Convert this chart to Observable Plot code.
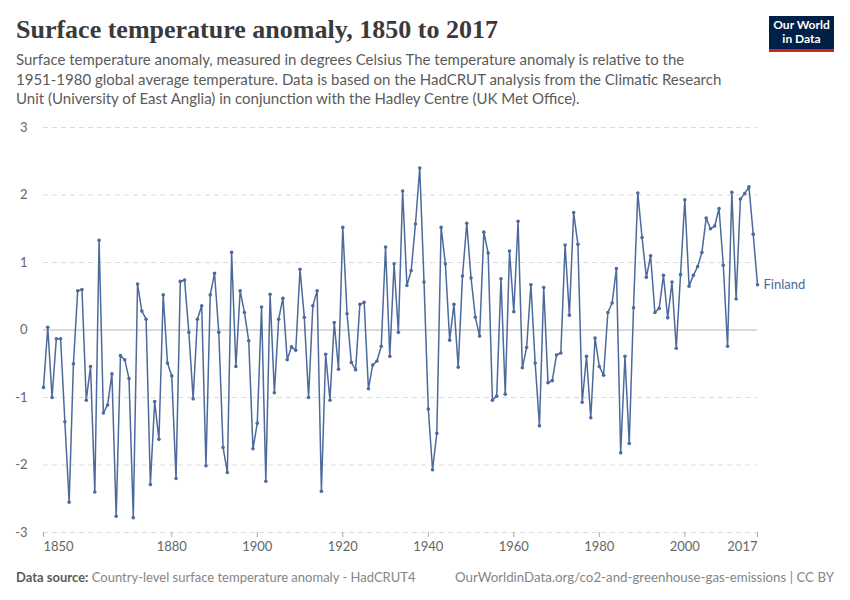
<!DOCTYPE html>
<html>
<head>
<meta charset="utf-8">
<script src="https://cdn.jsdelivr.net/npm/d3@7"></script>
<script src="https://cdn.jsdelivr.net/npm/@observablehq/plot@0.6"></script>
<style>
  body { margin: 0; width: 850px; height: 600px; position: relative; background: #fff; font-family: Lato, sans-serif; overflow: hidden; }
  #title { position: absolute; left: 16px; top: 15px; font-family: "Liberation Serif", serif; font-weight: bold; font-size: 26px; color: #3a3a3a; white-space: nowrap; }
  #subtitle { position: absolute; left: 16px; top: 50px; font-size: 15px; line-height: 19.5px; color: #5b5b5b; white-space: nowrap; }
  #chart { position: absolute; left: 0; top: 110px; }
  #logo { position: absolute; left: 769px; top: 16px; width: 65px; height: 31px; background: #002147; border-bottom: 3px solid #ce261e; color: #fff; font-weight: bold; font-size: 12px; line-height: 14px; text-align: center; padding-top: 2px; box-sizing: content-box; }
  #source { position: absolute; left: 16px; top: 569px; font-size: 13px; color: #858585; white-space: nowrap; }
  #source b { color: #5b5b5b; font-weight: bold; }
  #url { position: absolute; right: 16px; top: 569px; font-size: 13.3px; color: #858585; white-space: nowrap; }
</style>
</head>
<body>
<div id="title">Surface temperature anomaly, 1850 to 2017</div>
<div id="subtitle">Surface temperature anomaly, measured in degrees Celsius The temperature anomaly is relative to the<br>1951-1980 global average temperature. Data is based on the HadCRUT analysis from the Climatic Research<br>Unit (University of East Anglia) in conjunction with the Hadley Centre (UK Met Office).</div>
<div id="logo">Our World<br>in Data</div>
<div id="chart"></div>
<div id="source"><b>Data source:</b> Country-level surface temperature anomaly - HadCRUT4</div>
<div id="url">OurWorldinData.org/co2-and-greenhouse-gas-emissions | CC BY</div>
<script>
const country = "Finland";
const firstYear = 1850;
const lastYear = 2017;
const anomaly = [
  -0.85, 0.04, -1.00, -0.13, -0.13, -1.36, -2.55, -0.50, 0.58, 0.60,
  -1.04, -0.54, -2.40, 1.33, -1.23, -1.11, -0.65, -2.76, -0.38, -0.44,
  -0.72, -2.78, 0.68, 0.28, 0.16, -2.29, -1.06, -1.62, 0.52, -0.49,
  -0.68, -2.20, 0.72, 0.74, -0.035, -1.02, 0.16, 0.36, -2.01, 0.52,
  0.84, -0.035, -1.74, -2.11, 1.15, -0.54, 0.58, 0.26, -0.16, -1.76,
  -1.38, 0.34, -2.24, 0.53, -0.93, 0.16, 0.47, -0.44, -0.25, -0.30,
  0.90, 0.19, -1.00, 0.36, 0.58, -2.39, -0.36, -1.04, 0.11, -0.58,
  1.52, 0.24, -0.48, -0.59, 0.38, 0.41, -0.87, -0.52, -0.46, -0.24,
  1.23, -0.39, 0.98, -0.035, 2.06, 0.66, 0.88, 1.57, 2.40, 0.71,
  -1.17, -2.07, -1.53, 1.52, 0.98, -0.15, 0.38, -0.55, 0.80, 1.58,
  0.77, 0.19, -0.09, 1.45, 1.14, -1.04, -0.98, 0.76, -0.95, 1.17,
  0.27, 1.61, -0.56, -0.26, 0.67, -0.49, -1.42, 0.63, -0.78, -0.75,
  -0.37, -0.34, 1.26, 0.22, 1.74, 1.27, -1.07, -0.39, -1.30, -0.12,
  -0.54, -0.67, 0.26, 0.40, 0.91, -1.82, -0.39, -1.68, 0.33, 2.03,
  1.37, 0.78, 1.10, 0.26, 0.32, 0.81, 0.18, 0.71, -0.27, 0.82,
  1.93, 0.65, 0.81, 0.94, 1.15, 1.66, 1.50, 1.54, 1.80, 0.96,
  -0.24, 2.04, 0.46, 1.94, 2.02, 2.12, 1.42, 0.67
];
const xTicksMiddle = [1880, 1900, 1920, 1940, 1960, 1980, 2000];
const yTicks = [-3, -2, -1, 0, 1, 2, 3];

const lineColor = "#4c6a9c";
const data = anomaly.map((v, i) => ({year: firstYear + i, value: v}));
const last = data[data.length - 1];

const chart = Plot.plot({
  width: 850,
  height: 450,
  marginTop: 17,
  marginBottom: 28,
  marginLeft: 43,
  marginRight: 93,
  style: {fontFamily: "Lato, sans-serif", fontSize: "13px", background: "transparent"},
  x: {domain: [firstYear, lastYear]},
  y: {domain: [-3, 3]},
  marks: [
    Plot.gridY(yTicks.filter(d => d !== 0), {stroke: "#dcdcdc", strokeOpacity: 1, strokeDasharray: "5,4"}),
    Plot.ruleY([0], {stroke: "#b5b5b5", strokeWidth: 1.2}),
    Plot.axisY(yTicks, {tickSize: 0, tickPadding: 16, tickFormat: d => String(d), fill: "#666", stroke: "#666", label: null}),
    Plot.axisX(xTicksMiddle, {tickSize: 5, tickPadding: 4, tickFormat: d => String(d), fill: "#666", stroke: "#aaa", label: null}),
    Plot.axisX([firstYear], {tickSize: 5, tickPadding: 4, tickFormat: d => String(d), textAnchor: "start", fill: "#666", stroke: "#aaa", label: null}),
    Plot.axisX([lastYear], {tickSize: 5, tickPadding: 4, tickFormat: d => String(d), textAnchor: "end", fill: "#666", stroke: "#aaa", label: null}),
    Plot.line(data, {x: "year", y: "value", stroke: lineColor, strokeWidth: 1.5}),
    Plot.dot(data, {x: "year", y: "value", r: 1.8, fill: lineColor}),
    Plot.text([last], {x: "year", y: "value", text: () => country, dx: 6, textAnchor: "start", fill: lineColor, fontSize: 13})
  ]
});
document.getElementById("chart").appendChild(chart);
</script>
</body>
</html>
